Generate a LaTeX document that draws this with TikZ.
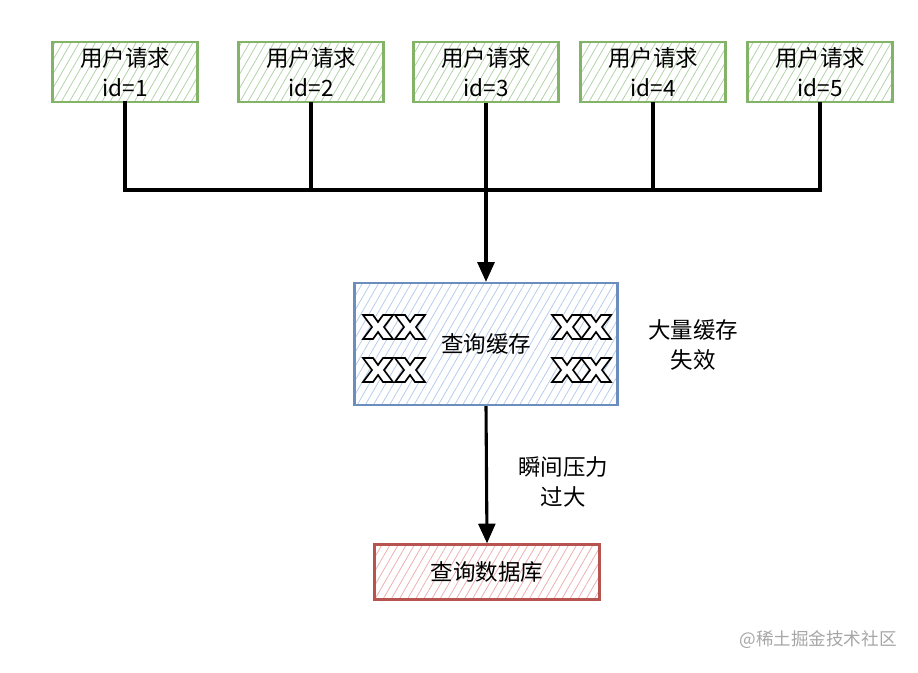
\documentclass[tikz,border=0pt]{standalone}
\usepackage{fontspec}
\setmainfont{Noto Sans CJK SC}
\usetikzlibrary{arrows.meta,positioning,patterns.meta}

\tikzset{
  box/.style={draw,line width=1.6pt,align=center,inner sep=0pt,
              font=\fontsize{16}{21}\selectfont},
  request/.style={box,draw={rgb,255:red,130;green,179;blue,102},
              pattern={Lines[angle=60,distance=5pt,line width=0.55pt]},
              pattern color={rgb,255:red,175;green,210;blue,165},
              minimum width=3.625cm,minimum height=1.5cm},
  wire/.style={line width=2.2pt,line cap=rect},
  xmark/.pic={\draw[line width=1.2pt,fill=white,line join=miter]
     (-15,-12) -- (-5,-12) -- (0,-5) -- (5,-12) -- (15,-12) -- (6,0)
     -- (15,12) -- (5,12) -- (0,5) -- (-5,12) -- (-15,12) -- (-6,0) -- cycle;}
}

\begin{document}
\begin{tikzpicture}[x=0.025cm,y=-0.025cm,>={Triangle[length=14pt,width=12pt]}]
    \useasboundingbox (0,0) rectangle (918,672);

    % requests
    \node[request] (req_1) at (125,72) {用户请求\\id=1};
    \node[request] (req_2) at (311,72) {用户请求\\id=2};
    \node[request] (req_3) at (486,72) {用户请求\\id=3};
    \node[request] (req_4) at (653,72) {用户请求\\id=4};
    \node[request] (req_5) at (820,72) {用户请求\\id=5};

    % cache and database
    \node[box,draw={rgb,255:red,108;green,142;blue,191},
          pattern={Lines[angle=60,distance=5pt,line width=0.55pt]},
          pattern color={rgb,255:red,180;green,203;blue,235},
          minimum width=6.575cm,minimum height=3.05cm] (cache) at (486,344) {查询缓存};
    \node[box,draw={rgb,255:red,184;green,84;blue,80},
          pattern={Lines[angle=60,distance=5pt,line width=0.55pt]},
          pattern color={rgb,255:red,236;green,175;blue,173},
          minimum width=5.625cm,minimum height=1.375cm] (db) at (487,572) {查询数据库};

    \pic at (378,327) {xmark};  \pic at (410,327) {xmark};
    \pic at (378,370) {xmark};  \pic at (410,370) {xmark};
    \pic at (567,327) {xmark};  \pic at (596,327) {xmark};
    \pic at (567,370) {xmark};  \pic at (596,370) {xmark};

    \coordinate (bus) at (486,190);
    \draw[wire] (req_1.south) |- (req_5.south |- bus) -- (req_5.south);
    \draw[wire] (req_2.south) -- (req_2.south |- bus);
    \draw[wire] (req_4.south) -- (req_4.south |- bus);
    \draw[wire,->,line cap=butt] (req_3.south) -- (cache.north);
    \draw[wire,->,line cap=butt] (cache.south) -- (db.north);

    % labels
    \node[box,draw=none] (fail) at (693,345) {大量缓存\\失效};
    \node[box,draw=none] (load) at (563,482) {瞬间压力\\过大};
    \node[text=black!35,font=\fontsize{12.5}{14}\selectfont] (mark) at (818,640) {@稀土掘金技术社区};
\end{tikzpicture}
\end{document}
